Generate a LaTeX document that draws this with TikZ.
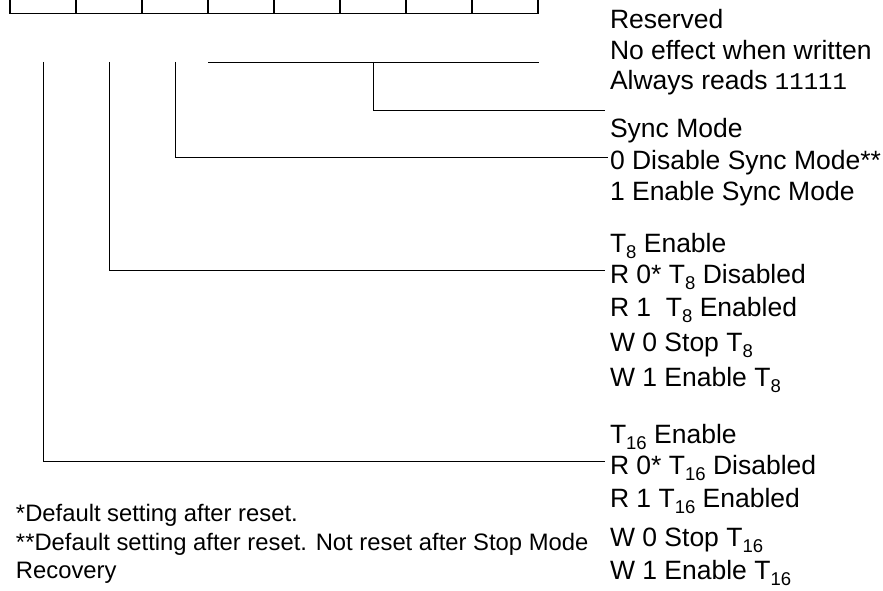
\documentclass[tikz,border=0pt]{standalone}
\usepackage{fontspec}
\setmainfont{Liberation Sans}
\setmonofont{Liberation Mono}
\newcommand\sbs[1]{\raisebox{-6pt}{\fontsize{18.5}{18.5}\selectfont #1}}
\begin{document}
\begin{tikzpicture}[x=1pt,y=-1pt,
  cell/.style={draw,line width=1.4pt,minimum width=66pt,minimum height=40pt,inner sep=0pt,outer sep=0pt},
  conn/.style={line width=0.9pt},
  txt/.style={anchor=base west,inner sep=0pt,outer sep=0pt,font=\fontsize{26.5}{30}\selectfont},
  fnote/.style={anchor=base west,inner sep=0pt,outer sep=0pt,font=\fontsize{23.8}{28}\selectfont}]
\useasboundingbox (0,0) rectangle (883,591);
% register bit cells
\foreach \i in {0,...,7}{
  \node[cell] (b\i) at ({43+66*\i},-6.7) {};
}
% text column
\node[txt] (res1) at (610,29) {Reserved};
\node[txt] (res2) at (610,60) {No effect when written};
\node[txt] (res3) at (610,90) {Always reads {\ttfamily\fontsize{24}{28}\selectfont 11111}};
\node[txt] (syn1) at (610,138) {Sync Mode};
\node[txt] (syn2) at (610,169) {0 Disable Sync Mode**};
\node[txt] (syn3) at (610,200) {1 Enable Sync Mode};
\node[txt] (t81) at (610,252) {T\sbs{8} Enable};
\node[txt] (t82) at (610,283) {R 0* T\sbs{8} Disabled};
\node[txt] (t83) at (610,316) {R 1 \ T\sbs{8} Enabled};
\node[txt] (t84) at (610,351) {W 0 Stop T\sbs{8}};
\node[txt] (t85) at (610,386) {W 1 Enable T\sbs{8}};
\node[txt] (t161) at (610,443) {T\sbs{16} Enable};
\node[txt] (t162) at (610,474) {R 0* T\sbs{16} Disabled};
\node[txt] (t163) at (610,507) {R 1 T\sbs{16} Enabled};
\node[txt] (t164) at (610,546) {W 0 Stop T\sbs{16}};
\node[txt] (t165) at (610,579) {W 1 Enable T\sbs{16}};
% footnotes
\node[fnote] (fn1) at (16,521) {*Default setting after reset.};
\node[fnote] (fn2) at (16,550) {**Default setting after reset. Not reset after Stop Mode};
\node[fnote] (fn3) at (16,578) {Recovery};
% connector coordinates
\coordinate (rL) at (208,62);
\coordinate (rR) at (539,62);
\coordinate (rM) at (373,62);
\coordinate (rE) at (605,110);
\coordinate (sT) at (175,62);
\coordinate (sE) at (608,157);
\coordinate (eT) at (109,62);
\coordinate (eE) at (605,270);
\coordinate (gT) at (43,62);
\coordinate (gE) at (605,461);
% connectors
\draw[conn] (rL) -- (rR);
\draw[conn] (rM) |- (rE);
\draw[conn] (sT) |- (sE);
\draw[conn] (eT) |- (eE);
\draw[conn] (gT) |- (gE);
\end{tikzpicture}
\end{document}
